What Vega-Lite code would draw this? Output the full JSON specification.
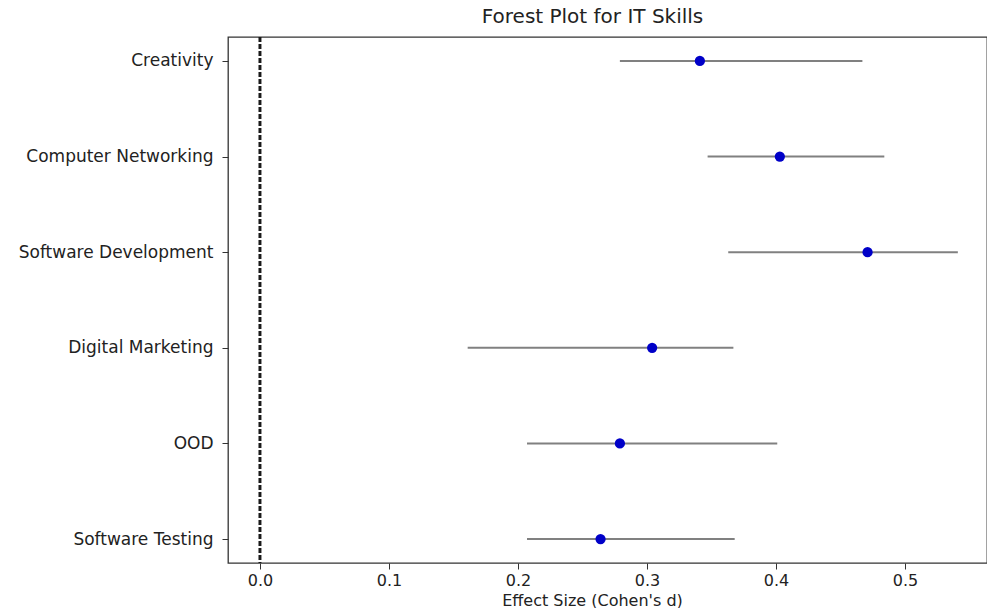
{
  "$schema": "https://vega.github.io/schema/vega-lite/v6.json",
  "width": 759,
  "height": 526,
  "autosize": {"type": "none"},
  "padding": {"left": 228, "top": 37, "right": 0, "bottom": 45},
  "background": "white",
  "config": {
    "view": {"stroke": "#333333", "strokeWidth": 1.3},
    "font": "DejaVu Sans"
  },
  "title": {
    "text": "Forest Plot for IT Skills",
    "font": "DejaVu Sans",
    "fontSize": 20,
    "fontWeight": "normal",
    "color": "#222222",
    "dx": -15,
    "offset": 9
  },
  "data": {
    "values": [
      {"skill": "Creativity", "d": 0.341, "lo": 0.279, "hi": 0.467},
      {"skill": "Computer Networking", "d": 0.403, "lo": 0.347, "hi": 0.484},
      {"skill": "Software Development", "d": 0.471, "lo": 0.363, "hi": 0.541},
      {"skill": "Digital Marketing", "d": 0.304, "lo": 0.161, "hi": 0.367},
      {"skill": "OOD", "d": 0.279, "lo": 0.207, "hi": 0.401},
      {"skill": "Software Testing", "d": 0.264, "lo": 0.207, "hi": 0.368}
    ]
  },
  "layer": [
    {
      "mark": {"type": "rule", "color": "#1a1a1a", "strokeWidth": 2.2, "strokeDash": [5, 2]},
      "encoding": {
        "x": {"datum": 0, "type": "quantitative", "scale": {"domain": [-0.0248, 0.5636], "nice": false, "zero": false}}
      }
    },
    {
      "mark": {"type": "rule", "color": "#808080", "strokeWidth": 2},
      "encoding": {
        "y": {"field": "skill", "type": "nominal", "sort": null, "scale": {"type": "point", "padding": 0.25}},
        "x": {"field": "lo", "type": "quantitative", "scale": {"domain": [-0.0248, 0.5636], "nice": false, "zero": false}},
        "x2": {"field": "hi"}
      }
    },
    {
      "mark": {"type": "point", "filled": true, "shape": "circle", "color": "#0000c8", "size": 105, "opacity": 1},
      "encoding": {
        "y": {
          "field": "skill", "type": "nominal", "sort": null,
          "scale": {"type": "point", "padding": 0.25},
          "axis": {
            "title": null,
            "domain": false,
            "grid": false,
            "tickSize": 6,
            "tickColor": "#333333",
            "labelPadding": 9,
            "labelFontSize": 17,
            "labelLimit": 400,
            "labelColor": "#222222",
            "labelFont": "DejaVu Sans"
          }
        },
        "x": {
          "field": "d", "type": "quantitative",
          "scale": {"domain": [-0.0248, 0.5636], "nice": false, "zero": false},
          "axis": {
            "title": "Effect Size (Cohen's d)",
            "values": [0, 0.1, 0.2, 0.3, 0.4, 0.5],
            "format": ".1f",
            "domain": false,
            "grid": false,
            "tickSize": 6,
            "tickColor": "#333333",
            "labelPadding": 3,
            "labelFontSize": 16,
            "labelColor": "#222222",
            "labelFont": "DejaVu Sans",
            "titleFont": "DejaVu Sans",
            "titleFontSize": 16,
            "titleFontWeight": "normal",
            "titleColor": "#222222",
            "titleX": 364,
            "titleY": 42,
            "titleAlign": "center",
            "titleBaseline": "alphabetic"
          }
        }
      }
    }
  ]
}
